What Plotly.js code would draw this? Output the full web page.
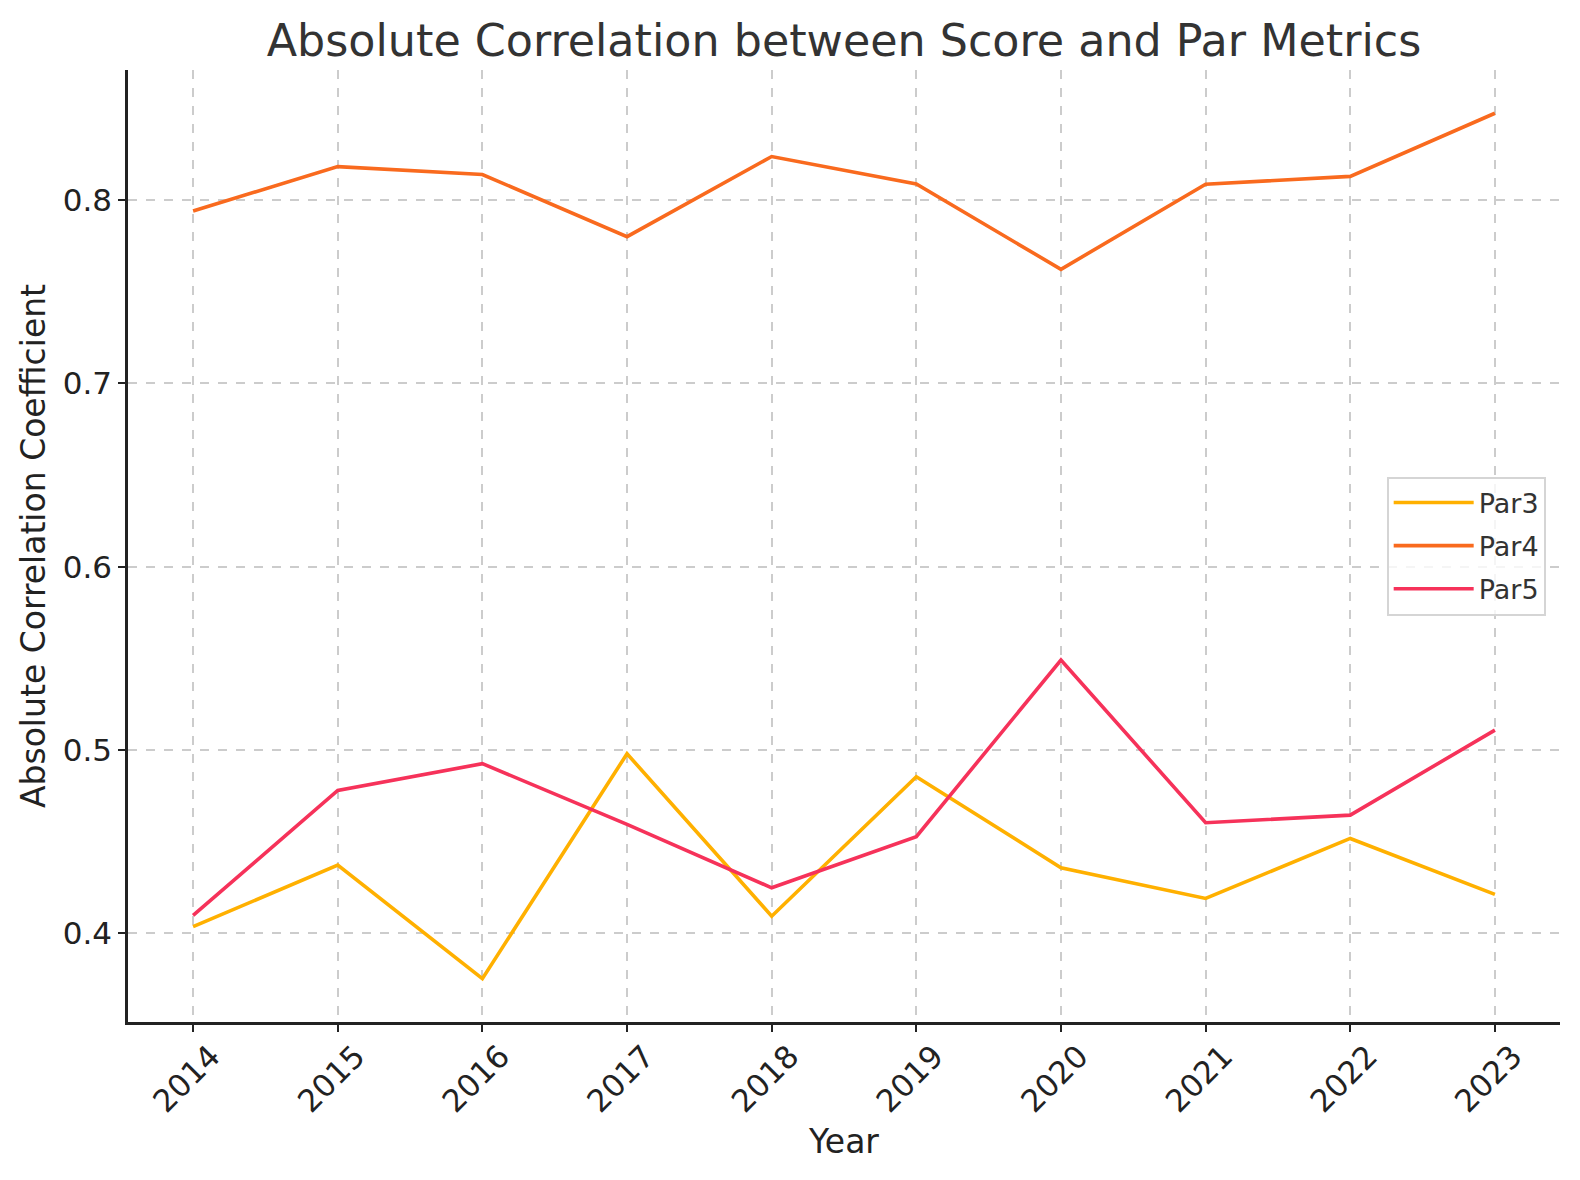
<!DOCTYPE html>
<html>
<head>
<meta charset="utf-8">
<script src="https://cdn.plot.ly/plotly-3.0.1.min.js"></script>
<style>html,body{margin:0;padding:0;background:#fff;}#chart{width:1580px;height:1180px;}</style>
</head>
<body>
<div id="chart"></div>
<script>
const years = [2014, 2015, 2016, 2017, 2018, 2019, 2020, 2021, 2022, 2023];
const yearLabels = ["2014", "2015", "2016", "2017", "2018", "2019", "2020", "2021", "2022", "2023"];
const par3 = [0.4037, 0.4373, 0.3753, 0.4980, 0.4094, 0.4855, 0.4358, 0.4191, 0.4518, 0.4213];
const par4 = [0.7940, 0.8182, 0.8139, 0.7800, 0.8237, 0.8087, 0.7622, 0.8086, 0.8129, 0.8473];
const par5 = [0.4098, 0.4780, 0.4926, 0.4595, 0.4249, 0.4528, 0.5491, 0.4604, 0.4645, 0.5109];
const yTicks = [0.4, 0.5, 0.6, 0.7, 0.8];

const seriesNames = ["Par3", "Par4", "Par5"];
const seriesValues = [par3, par4, par5];
const seriesColors = ["#FFB000", "#F96A1E", "#F6325A"];

const traces = seriesNames.map((name, i) => ({
  x: years,
  y: seriesValues[i],
  type: "scatter",
  mode: "lines",
  name: name,
  legendgroup: name,
  line: {color: seriesColors[i], width: 3.6}
}));

const font = "DejaVu Sans, sans-serif";
const layout = {
  width: 1580,
  height: 1180,
  paper_bgcolor: "#ffffff",
  plot_bgcolor: "#ffffff",
  margin: {l: 128, r: 20, t: 70, b: 158},
  font: {family: font, color: "#222222"},
  title: {
    text: "Absolute Correlation between Score and Par Metrics",
    font: {family: font, size: 44.4, color: "#333333"},
    x: 0.5, xref: "paper", xanchor: "center",
    y: 1, yref: "paper", yanchor: "bottom",
    pad: {b: 14}
  },
  showlegend: true,
  legend: {
    x: 0.99, xanchor: "right", y: 0.5, yanchor: "middle",
    bgcolor: "rgba(255,255,255,0.8)",
    bordercolor: "#d5d5d5", borderwidth: 2,
    font: {family: font, size: 27, color: "#333333"},
    tracegroupgap: 5,
    itemwidth: 80
  },
  xaxis: {
    range: [2013.55, 2023.45],
    tickmode: "array",
    tickvals: years,
    ticktext: yearLabels,
    tickangle: -45,
    ticks: "outside", ticklen: 7, tickwidth: 2, tickcolor: "#222222",
    tickfont: {family: font, size: 31, color: "#222222"},
    ticklabelshift: 18,
    ticklabelstandoff: -6,
    showline: true, linecolor: "#222222", linewidth: 2.5, mirror: false,
    showgrid: true, gridcolor: "#cccccc", gridwidth: 1.5, griddash: "dash",
    zeroline: false,
    automargin: false,
    title: {text: "Year", font: {family: font, size: 33, color: "#222222"}, standoff: 12}
  },
  yaxis: {
    range: [0.3517, 0.8709],
    tickmode: "array",
    tickvals: yTicks,
    tickformat: ".1f",
    ticks: "outside", ticklen: 7, tickwidth: 2, tickcolor: "#222222",
    tickfont: {family: font, size: 31, color: "#222222"},
    showline: true, linecolor: "#222222", linewidth: 2.5, mirror: false,
    showgrid: true, gridcolor: "#cccccc", gridwidth: 1.5, griddash: "dash",
    zeroline: false,
    automargin: false,
    title: {text: "Absolute Correlation Coefficient", font: {family: font, size: 33, color: "#222222"}, standoff: 8}
  }
};

Plotly.newPlot("chart", traces, layout, {displayModeBar: false, responsive: false});
</script>
</body>
</html>
